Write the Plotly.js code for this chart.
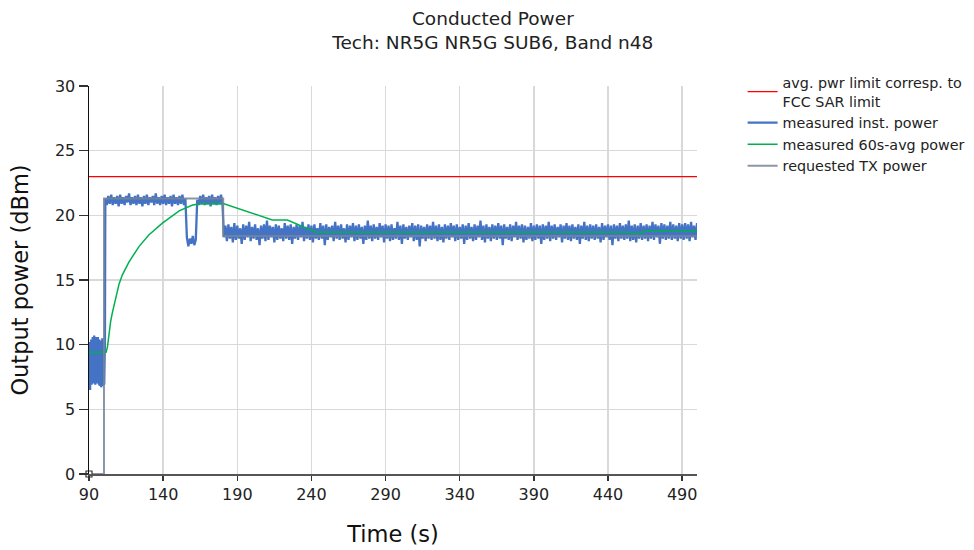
<!DOCTYPE html>
<html>
<head>
<meta charset="utf-8">
<script src="https://cdn.plot.ly/plotly-3.0.1.min.js"></script>
<style>html,body{margin:0;padding:0;background:#fff;}#chart{width:974px;height:550px;}</style>
</head>
<body>
<div id="chart"></div>
<script>
// ---- Data ----
var xTicks = [90, 140, 190, 240, 290, 340, 390, 440, 490];

// limit line
var limitTime = [90, 500];
var limitPower = [23, 23];

// measured inst. power, segment A: t = 90 .. 100.75, every 0.25 s
var instStartA = 90, instStepA = 0.25;
var instPowerA = [
  8.4, 6.6, 10.2, 6.5, 9.9, 7.1, 10.4, 6.9, 10.1, 7.3,
  10.6, 7.0, 9.8, 7.2, 10.7, 7.4, 10.3, 6.9, 10.6, 7.5,
  10.0, 7.0, 10.5, 7.3, 10.6, 7.2, 10.2, 6.9, 10.4, 6.8,
  10.0, 7.1, 10.3, 6.7, 10.1, 7.3, 10.5, 6.8, 9.7, 7.1,
  10.2, 6.9, 9.9, 10.4
];
// segment B: t = 101 .. 180, every 1 s
var instStartB = 101, instStepB = 1;
var instPowerB = [
  21.3, 20.8, 21.5, 20.9, 21.6, 20.8, 21.4, 20.9, 21.5, 20.7,
  21.6, 20.9, 21.4, 20.8, 21.5, 21.0, 21.7, 20.8, 21.4, 20.9,
  21.5, 20.8, 21.6, 20.9, 21.4, 20.7, 21.5, 20.9, 21.6, 20.8,
  21.4, 21.0, 21.5, 20.8, 21.7, 20.9, 21.4, 20.8, 21.5, 20.9,
  21.6, 20.8, 21.4, 20.9, 21.5, 20.7, 21.6, 20.9, 21.4, 20.8,
  21.5, 20.9, 21.6, 20.8, 21.3, 18.3, 17.6, 18.2, 17.8, 18.4,
  17.7, 18.1, 21.2, 20.8, 21.5, 20.9, 21.6, 20.8, 21.4, 20.9,
  21.5, 20.7, 21.6, 20.9, 21.4, 20.8, 21.5, 20.9, 21.6, 20.9
];
// segment C: t = 181 .. 500, every 1 s
var instStartC = 181, instStepC = 1;
var instPowerC = [
  18.3, 19.2, 18.0, 19.3, 18.2, 19.1, 17.9, 19.4, 18.1, 19.2,
  18.2, 19.0, 17.8, 19.3, 18.1, 19.2, 18.3, 19.5, 18.0, 19.1,
  18.2, 19.3, 18.1, 19.0, 17.7, 19.2, 18.2, 19.3, 18.0, 19.6,
  18.1, 19.2, 18.3, 19.1, 17.9, 19.3, 18.1, 19.2, 18.2, 19.0,
  18.0, 19.4, 18.2, 19.2, 18.1, 19.3, 17.8, 19.1, 18.2, 19.3,
  18.1, 19.2, 18.3, 19.5, 18.0, 19.1, 18.2, 19.3, 18.1, 19.2,
  17.9, 19.3, 18.2, 19.0, 18.1, 19.4, 18.2, 19.2, 17.7, 19.3,
  18.1, 19.1, 18.3, 19.2, 18.0, 19.5, 18.2, 19.2, 18.1, 19.3,
  18.2, 19.0, 17.9, 19.3, 18.1, 19.2, 18.3, 19.4, 18.0, 19.2,
  18.1, 19.3, 18.2, 19.1, 17.8, 19.2, 18.1, 19.6, 18.2, 19.2,
  18.0, 19.3, 18.2, 19.1, 18.1, 19.4, 18.3, 19.2, 17.9, 19.3,
  18.2, 19.2, 18.0, 19.3, 18.1, 19.0, 18.2, 19.5, 18.1, 19.2,
  17.8, 19.3, 18.2, 19.1, 18.1, 19.2, 18.3, 19.4, 18.0, 19.2,
  18.1, 19.3, 17.6, 19.2, 18.2, 19.1, 18.0, 19.3, 18.2, 19.2,
  18.1, 19.5, 18.2, 19.2, 18.0, 19.3, 18.1, 19.1, 17.9, 19.3,
  18.2, 19.2, 18.1, 19.4, 18.3, 19.2, 18.0, 19.3, 18.1, 19.1,
  18.2, 19.3, 17.8, 19.2, 18.1, 19.4, 18.2, 19.1, 18.0, 19.3,
  18.1, 19.2, 18.3, 19.6, 18.1, 19.2, 17.9, 19.3, 18.2, 19.1,
  18.0, 19.3, 18.2, 19.2, 18.1, 19.4, 18.2, 19.2, 17.7, 19.3,
  18.2, 19.1, 18.1, 19.3, 18.0, 19.2, 18.3, 19.5, 18.1, 19.2,
  18.2, 19.3, 17.9, 19.2, 18.1, 19.1, 18.2, 19.4, 18.0, 19.2,
  18.1, 19.3, 18.2, 19.2, 17.8, 19.3, 18.1, 19.2, 18.2, 19.5,
  18.0, 19.2, 18.2, 19.3, 18.1, 19.1, 18.3, 19.3, 17.9, 19.2,
  18.2, 19.4, 18.1, 19.2, 18.0, 19.3, 18.2, 19.1, 18.1, 19.3,
  17.8, 19.2, 18.2, 19.5, 18.1, 19.2, 18.0, 19.3, 18.2, 19.2,
  18.1, 19.3, 18.2, 19.1, 17.9, 19.4, 18.1, 19.2, 18.3, 19.3,
  18.1, 19.2, 17.7, 19.3, 18.2, 19.2, 18.0, 19.4, 18.2, 19.2,
  18.1, 19.3, 18.2, 19.6, 18.0, 19.2, 18.1, 19.3, 17.9, 19.2,
  18.2, 19.4, 18.1, 19.2, 18.2, 19.3, 18.0, 19.2, 18.2, 19.5,
  18.1, 19.3, 18.3, 19.2, 17.8, 19.4, 18.2, 19.3, 18.1, 19.2,
  18.2, 19.5, 18.1, 19.3, 18.2, 19.2, 18.0, 19.4, 18.2, 19.3,
  18.1, 19.4, 18.2, 19.3, 18.0, 19.5, 18.3, 19.2, 18.1, 19.4
];

// measured 60s-avg power
var avgTime = [90, 101.5, 102.4, 103.5, 104.6, 105.8, 108, 110.3, 112.5, 117, 123.8, 130.5, 139.5, 150.8, 159.8, 164.3, 181, 213.6, 223.8, 243, 300, 380, 454, 455, 463, 464, 500];
var avgPower = [9.42, 9.42, 9.8, 11.0, 11.8, 12.5, 13.7, 14.7, 15.4, 16.4, 17.6, 18.5, 19.4, 20.35, 20.8, 20.88, 20.9, 19.64, 19.64, 18.7, 18.7, 18.7, 18.7, 18.6, 18.6, 18.77, 18.77];

// requested TX power
var reqTime = [90, 100.1, 100.1, 180.5, 180.5, 500];
var reqPower = [0, 0, 21.3, 21.3, 18.4, 18.4];

// ---- build the inst. power series from its segments ----
function seg(start, step, vals) { return vals.map(function (v, i) { return start + i * step; }); }
var instTime = seg(instStartA, instStepA, instPowerA)
  .concat(seg(instStartB, instStepB, instPowerB))
  .concat(seg(instStartC, instStepC, instPowerC));
var instPower = instPowerA.concat(instPowerB).concat(instPowerC);

var FONT = 'DejaVu Sans, Verdana, sans-serif';

var traces = [
  {x: limitTime, y: limitPower, mode: 'lines', name: 'avg. pwr limit corresp. to<br>FCC SAR limit',
   line: {color: '#ff0000', width: 1.3}},
  {x: instTime, y: instPower, mode: 'lines', name: 'measured inst. power',
   line: {color: '#4472c4', width: 2.3}},
  {x: avgTime, y: avgPower, mode: 'lines', name: 'measured 60s-avg power',
   line: {color: '#00b050', width: 1.5}},
  {x: reqTime, y: reqPower, mode: 'lines', name: 'requested TX power',
   line: {color: 'rgba(118,132,152,0.85)', width: 2}},
  {x: [reqTime[0]], y: [reqPower[0]], mode: 'markers', showlegend: false, hoverinfo: 'skip', cliponaxis: false,
   marker: {symbol: 'square', size: 6, color: '#ffffff', line: {color: '#333', width: 1.2}}}
];

var layout = {
  width: 974, height: 550,
  paper_bgcolor: '#ffffff', plot_bgcolor: '#ffffff',
  margin: {l: 89, r: 277, t: 86, b: 76, autoexpand: false},
  font: {family: FONT, color: '#222'},
  title: {text: 'Conducted Power<br>Tech: NR5G NR5G SUB6, Band n48',
          font: {family: FONT, size: 18.5, color: '#222'},
          x: 0.506, xref: 'container', xanchor: 'center', y: 0.955, yref: 'container', yanchor: 'top'},
  xaxis: {
    range: [90, 500], tickvals: xTicks, ticktext: xTicks.map(String),
    showgrid: true, gridcolor: '#d9d9d9', gridwidth: 1.5,
    showline: true, linecolor: '#555', linewidth: 2,
    ticks: 'outside', ticklen: 5, tickcolor: '#333', tickwidth: 1.5,
    zeroline: false,
    tickfont: {family: FONT, size: 16, color: '#222'},
    title: {text: 'Time (s)', font: {family: FONT, size: 22.5, color: '#111'}, standoff: 23}
  },
  yaxis: {
    range: [0, 30], dtick: 5, tick0: 0,
    showgrid: true, gridcolor: '#d9d9d9', gridwidth: 1.5,
    showline: true, linecolor: '#111', linewidth: 1.5,
    ticks: 'outside', ticklen: 9, tickcolor: '#333', tickwidth: 1.5,
    zeroline: false,
    tickfont: {family: FONT, size: 16, color: '#222'},
    title: {text: 'Output power (dBm)', font: {family: FONT, size: 22.5, color: '#111'}, standoff: 20}
  },
  showlegend: true,
  legend: {x: 1.075, xanchor: 'left', y: 1.05, yanchor: 'top',
           font: {family: FONT, size: 14.3, color: '#222'},
           bgcolor: 'rgba(0,0,0,0)', tracegroupgap: 0}
};

Plotly.newPlot('chart', traces, layout, {displayModeBar: false, staticPlot: true});
</script>
</body>
</html>
